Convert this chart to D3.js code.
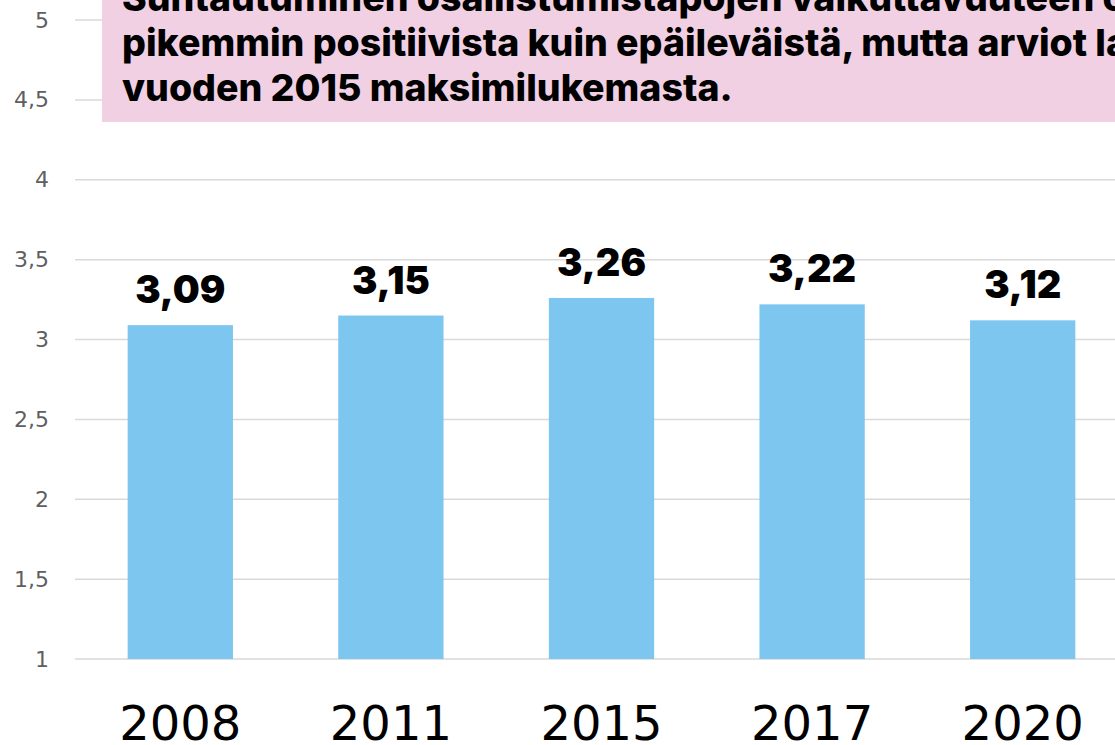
<!DOCTYPE html>
<html>
<head>
<meta charset="utf-8">
<script src="https://cdn.jsdelivr.net/npm/d3@7"></script>
<style>
  html, body { margin: 0; padding: 0; background: #fff; overflow: hidden; }
  svg { display: block; }
</style>
</head>
<body>
<svg id="chart" width="1115" height="745"></svg>
<script>
// Data
const years = ["2008", "2011", "2015", "2017", "2020"];
const values = [3.09, 3.15, 3.26, 3.22, 3.12];
const yTicks = [1, 1.5, 2, 2.5, 3, 3.5, 4, 4.5, 5];
const titleLines = [
  "Suhtautuminen osallistumistapojen vaikuttavuuteen on",
  "pikemmin positiivista kuin epäileväistä, mutta arviot laskivat",
  "vuoden 2015 maksimilukemasta."
];

const W = 1115, H = 745;
const svg = d3.select("#chart");
const fmt = d3.formatLocale({ decimal: ",", thousands: "\u00a0", grouping: [3], currency: ["", "€"] });
const fmtVal = fmt.format(".2f");
const fmtTick = v => fmt.format("~g")(v);

const x = d3.scaleBand().domain(years).range([75, 1128]).paddingInner(0.5).paddingOuter(0.25);
const y = d3.scaleLinear().domain([1, 5]).range([659, 20]);

// Gridlines
svg.append("g").selectAll("line").data(yTicks).join("line")
  .attr("x1", 75).attr("x2", W)
  .attr("y1", d => y(d)).attr("y2", d => y(d))
  .attr("stroke", "#d9d9d9").attr("stroke-width", 1.5);

// Y axis labels
const yAxis = d3.axisLeft(y).tickValues(yTicks).tickFormat(fmtTick).tickSize(0).tickPadding(0);
const gy = svg.append("g").attr("transform", "translate(49,0)").call(yAxis);
gy.select(".domain").remove();
gy.selectAll("text")
  .attr("font-family", "'DejaVu Sans', sans-serif")
  .attr("font-size", 22).attr("fill", "#5f5f5f");

// Bars
svg.append("g").selectAll("rect").data(years).join("rect")
  .attr("x", d => x(d)).attr("width", x.bandwidth())
  .attr("y", (d, i) => y(values[i]))
  .attr("height", (d, i) => y(1) - y(values[i]))
  .attr("fill", "#7dc6ef");

// Value labels
svg.append("g").selectAll("text").data(years).join("text")
  .attr("x", d => x(d) + x.bandwidth() / 2)
  .attr("y", (d, i) => y(values[i]) - 22)
  .attr("text-anchor", "middle")
  .attr("font-family", "Inter, sans-serif").attr("font-weight", 900)
  .attr("font-size", 38).attr("fill", "#000")
  .text((d, i) => fmtVal(values[i]));

// X axis labels
const xAxis = d3.axisBottom(x).tickSize(0).tickPadding(0);
const gx = svg.append("g").attr("transform", "translate(0,740)").call(xAxis);
gx.select(".domain").remove();
gx.selectAll("text")
  .attr("dy", 0)
  .attr("font-family", "'DejaVu Sans', sans-serif").attr("font-weight", 400)
  .attr("font-size", 48).attr("fill", "#000");

// Title box
svg.append("rect").attr("x", 102).attr("y", -10).attr("width", W).attr("height", 132)
  .attr("fill", "#f0d0e2");
svg.append("g").selectAll("text").data(titleLines).join("text")
  .attr("x", 122).attr("y", (d, i) => 11 + i * 45)
  .attr("font-family", "Inter, sans-serif").attr("font-weight", 800)
  .attr("font-size", 37.5).attr("fill", "#000")
  .text(d => d);
</script>
</body>
</html>
